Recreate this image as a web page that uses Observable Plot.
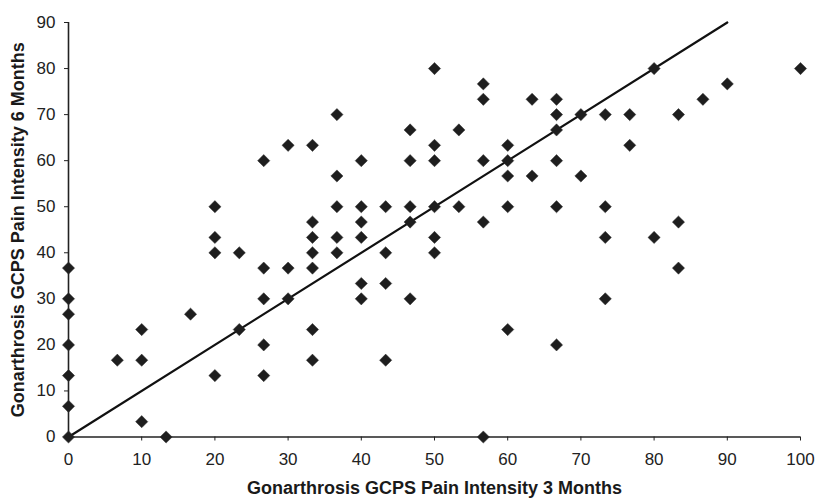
<!DOCTYPE html>
<html>
<head>
<meta charset="utf-8">
<script src="https://cdn.jsdelivr.net/npm/d3@7"></script>
<script src="https://cdn.jsdelivr.net/npm/@observablehq/plot@0.6"></script>
<style>
  html, body { margin: 0; padding: 0; background: #fff; }
  #chart { width: 818px; height: 504px; }
</style>
</head>
<body>
<div id="chart"></div>
<script>
// GCPS pain intensity at 3 months (x) and 6 months (y)
const painAt3Months = [
  0, 0, 0, 0, 0, 0, 0,
  6.67,
  10, 10, 10,
  13.33,
  16.67,
  20, 20, 20, 20,
  23.33, 23.33,
  26.67, 26.67, 26.67, 26.67, 26.67,
  30, 30, 30,
  33.33, 33.33, 33.33, 33.33, 33.33, 33.33, 33.33,
  36.67, 36.67, 36.67, 36.67, 36.67,
  40, 40, 40, 40, 40, 40,
  43.33, 43.33, 43.33, 43.33,
  46.67, 46.67, 46.67, 46.67, 46.67,
  50, 50, 50, 50, 50, 50,
  53.33, 53.33,
  56.67, 56.67, 56.67, 56.67, 56.67,
  60, 60, 60, 60, 60,
  63.33, 63.33,
  66.67, 66.67, 66.67, 66.67, 66.67, 66.67,
  70, 70,
  73.33, 73.33, 73.33, 73.33,
  76.67, 76.67,
  80, 80,
  83.33, 83.33, 83.33,
  86.67,
  90,
  100
];
const painAt6Months = [
  0, 6.67, 13.33, 20, 26.67, 30, 36.67,
  16.67,
  23.33, 16.67, 3.33,
  0,
  26.67,
  50, 43.33, 40, 13.33,
  40, 23.33,
  60, 36.67, 30, 20, 13.33,
  63.33, 36.67, 30,
  63.33, 46.67, 43.33, 40, 36.67, 23.33, 16.67,
  70, 56.67, 50, 43.33, 40,
  60, 50, 46.67, 43.33, 33.33, 30,
  50, 40, 33.33, 16.67,
  66.67, 60, 50, 46.67, 30,
  80, 63.33, 60, 50, 43.33, 40,
  66.67, 50,
  76.67, 73.33, 60, 46.67, 0,
  63.33, 60, 56.67, 50, 23.33,
  73.33, 56.67,
  73.33, 70, 66.67, 60, 50, 20,
  70, 56.67,
  70, 50, 43.33, 30,
  70, 63.33,
  80, 43.33,
  70, 46.67, 36.67,
  73.33,
  76.67,
  80
];
// identity line
const lineStart = [0, 0];
const lineEnd = [90, 90];
const xTicks = [0, 10, 20, 30, 40, 50, 60, 70, 80, 90, 100];
const yTicks = [0, 10, 20, 30, 40, 50, 60, 70, 80, 90];
const xTitle = "Gonarthrosis GCPS Pain Intensity 3 Months";
const yTitle = "Gonarthrosis GCPS Pain Intensity 6 Months";

const points = painAt3Months.map((x, i) => ({x, y: painAt6Months[i]}));
const identity = [lineStart, lineEnd].map(([x, y]) => ({x, y}));

const font = "'Liberation Sans', Arial, sans-serif";

const chart = Plot.plot({
  width: 818,
  height: 504,
  marginLeft: 68,
  marginRight: 18,
  marginTop: 22,
  marginBottom: 67.5,
  style: {fontFamily: font, background: "#fff", color: "#222"},
  x: {domain: [0, 100], ticks: xTicks, label: null},
  y: {domain: [0, 90], ticks: yTicks, label: null},
  marks: [
    Plot.axisX({ticks: xTicks, tickSize: 4, tickPadding: 12, fontSize: 17, stroke: "#222", label: null, tickFormat: d => String(d)}),
    Plot.axisY({ticks: yTicks, tickSize: 4, tickPadding: 9, fontSize: 17, stroke: "#222", label: null, tickFormat: d => String(d)}),
    Plot.ruleX([0], {stroke: "#222", strokeWidth: 1.6}),
    Plot.ruleY([0], {stroke: "#222", strokeWidth: 1.6}),
    Plot.line(identity, {x: "x", y: "y", stroke: "#111", strokeWidth: 2.2}),
    Plot.dot(points, {x: "x", y: "y", symbol: "diamond2", r: 5.5, fill: "#1e1e1e", stroke: "#333", strokeWidth: 0.5}),
    Plot.text([xTitle], {frameAnchor: "bottom", text: d => d, dy: 57, fontSize: 18, fontWeight: "bold", fill: "#1a1a1a"}),
    Plot.text([yTitle], {frameAnchor: "left", text: d => d, dx: -50, rotate: -90, textAnchor: "middle", fontSize: 18, fontWeight: "bold", fill: "#1a1a1a"})
  ]
});
document.getElementById("chart").appendChild(chart);
</script>
</body>
</html>
